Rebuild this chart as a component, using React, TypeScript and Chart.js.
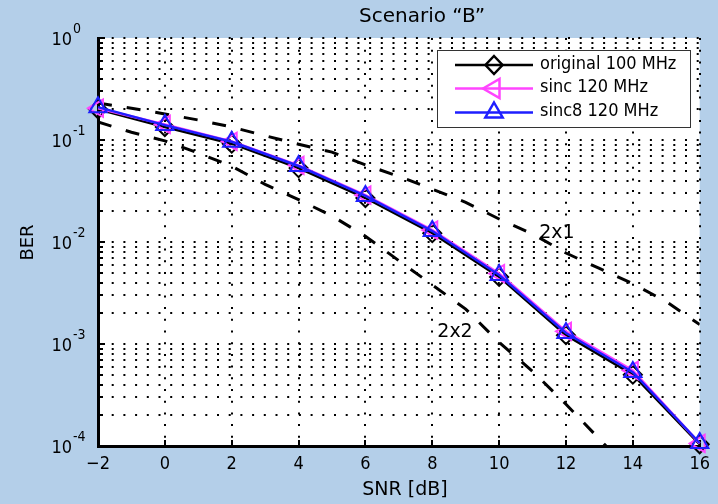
import React, { useEffect, useRef } from 'react';
import { Chart, registerables } from 'chart.js';

Chart.register(...registerables);

// ---- data ----
const snr = [-2, 0, 2, 4, 6, 8, 10, 12, 14, 16];
const berOriginal = [0.2, 0.134, 0.092, 0.053, 0.027, 0.0122, 0.00455, 0.00122, 0.0005, 0.000104];
const berSinc = [0.205, 0.142, 0.097, 0.0565, 0.0288, 0.0131, 0.0049, 0.00133, 0.00055, 0.000106];
const berSinc8 = [0.21, 0.14, 0.096, 0.0556, 0.0283, 0.0128, 0.00475, 0.00128, 0.00053, 0.000107];

const snr2x1 = [-2, -1, 0, 1, 2, 3, 4, 5, 6, 7, 8, 9, 10, 11, 12, 13, 14, 15, 16];
const ber2x1 = [0.23, 0.205, 0.18, 0.157, 0.134, 0.11, 0.091, 0.076, 0.057, 0.044, 0.033, 0.0245, 0.0168, 0.012, 0.0078, 0.0055, 0.0039, 0.0026, 0.00155];
const snr2x2 = [-2, -1, 0, 1, 2, 3, 4, 5, 6, 7, 8, 9, 10, 11, 12, 13, 13.2];
const ber2x2 = [0.15, 0.119, 0.098, 0.0745, 0.0554, 0.0367, 0.026, 0.018, 0.0114, 0.00656, 0.0038, 0.0022, 0.00104, 0.00054, 0.000257, 0.000117, 0.0001];

const xTicks = [-2, 0, 2, 4, 6, 8, 10, 12, 14, 16];
const yDecadeExponents = [0, -1, -2, -3, -4];
const yMinorMultipliers = [2, 3, 4, 5, 6, 7, 8, 9];
const legendLabels = ['original 100 MHz', 'sinc 120 MHz', 'sinc8 120 MHz'];
const curveLabels = ['2x1', '2x2'];
const titleText = 'Scenario \u201cB\u201d';
const xTitle = 'SNR [dB]';
const yTitle = 'BER';

const COL_BLACK = '#000000';
const COL_PINK = '#ff45ff';
const COL_BLUE = '#1e1eff';
const FONT = "'DejaVu Sans', Verdana, sans-serif";
const FONT_C = "'DejaVu Sans Condensed', 'DejaVu Sans', sans-serif";

const yTickValues: number[] = [];
yDecadeExponents.forEach((e) => {
  yTickValues.push(Math.pow(10, e));
  if (e < 0) yMinorMultipliers.forEach((m) => yTickValues.push(m * Math.pow(10, e)));
});

const pts = (xs: number[], ys: number[]) => xs.map((x, i) => ({ x, y: ys[i] }));

function markerPath(ctx: CanvasRenderingContext2D, kind: string, x: number, y: number, r: number) {
  ctx.beginPath();
  if (kind === 'diamond') {
    ctx.moveTo(x, y - r);
    ctx.lineTo(x + r * 0.95, y);
    ctx.lineTo(x, y + r);
    ctx.lineTo(x - r * 0.95, y);
  } else if (kind === 'left') {
    ctx.moveTo(x - r, y);
    ctx.lineTo(x + 0.5 * r, y - 0.866 * r);
    ctx.lineTo(x + 0.5 * r, y + 0.866 * r);
  } else {
    ctx.moveTo(x, y - r);
    ctx.lineTo(x + 0.866 * r, y + 0.5 * r);
    ctx.lineTo(x - 0.866 * r, y + 0.5 * r);
  }
  ctx.closePath();
  ctx.stroke();
}

const decor = {
  id: 'decor',
  beforeDraw(chart: any) {
    const { ctx, chartArea: a, width, height } = chart;
    ctx.save();
    ctx.fillStyle = '#b4cfe9';
    ctx.fillRect(0, 0, width, height);
    ctx.fillStyle = '#ffffff';
    ctx.fillRect(a.left, a.top, a.right - a.left, a.bottom - a.top);
    ctx.restore();
  },
  beforeDatasetsDraw(chart: any) {
    const { ctx, chartArea: a, scales } = chart;
    const ys = scales.y;
    const xs = scales.x;
    ctx.save();
    ctx.strokeStyle = '#000';
    ctx.lineWidth = 2;
    yTickValues.forEach((v) => {
      const py = Math.round(ys.getPixelForValue(v));
      const isMajor = Math.abs(Math.log10(v) - Math.round(Math.log10(v))) < 1e-9;
      ctx.beginPath();
      ctx.moveTo(a.left, py);
      ctx.lineTo(a.left + (isMajor ? 7 : 5), py);
      ctx.stroke();
    });
    xTicks.forEach((v) => {
      const px = Math.round(xs.getPixelForValue(v));
      ctx.beginPath();
      ctx.moveTo(px, a.bottom);
      ctx.lineTo(px, a.bottom - 6);
      ctx.stroke();
    });
    ctx.restore();
  },
  afterDraw(chart: any) {
    const { ctx, scales } = chart;
    const ys = scales.y;
    const xs = scales.x;
    ctx.save();
    ctx.fillStyle = '#000';
    // y tick labels with superscripts
    yDecadeExponents.forEach((e) => {
      const py = ys.getPixelForValue(Math.pow(10, e));
      ctx.font = `18px ${FONT_C}`;
      ctx.textAlign = 'right';
      ctx.textBaseline = 'alphabetic';
      ctx.fillText('10', 72, py + 7);
      ctx.font = `14px ${FONT_C}`;
      ctx.textAlign = 'left';
      ctx.fillText(e === 0 ? '0' : String(e), 73, py - 5);
    });
    // title
    ctx.font = `20px ${FONT}`;
    ctx.textAlign = 'center';
    ctx.fillText(titleText, 422, 22);
    // x title
    ctx.font = `19px ${FONT}`;
    ctx.fillText(xTitle, 405, 494.5);
    // y title
    ctx.save();
    ctx.font = `18px ${FONT}`;
    ctx.translate(33, 242.5);
    ctx.rotate(-Math.PI / 2);
    ctx.textAlign = 'center';
    ctx.fillText(yTitle, 0, 0);
    ctx.restore();
    // curve labels
    ctx.font = `19px ${FONT}`;
    ctx.textAlign = 'left';
    ctx.fillText(curveLabels[0], xs.getPixelForValue(11.2), 238);
    ctx.fillText(curveLabels[1], xs.getPixelForValue(8.15), 337);
    // legend
    const lx = 437, ly = 50, lw = 253, lh = 77;
    ctx.fillStyle = '#fff';
    ctx.fillRect(lx, ly, lw, lh);
    ctx.strokeStyle = '#333';
    ctx.lineWidth = 1;
    ctx.strokeRect(lx + 0.5, ly + 0.5, lw, lh);
    const rows = [65, 88.5, 112.5];
    const cols = [COL_BLACK, COL_PINK, COL_BLUE];
    const kinds = ['diamond', 'left', 'up'];
    const sizes = [9, 11, 10];
    legendLabels.forEach((t, i) => {
      const y = rows[i];
      ctx.strokeStyle = cols[i];
      ctx.lineWidth = 2.5;
      ctx.beginPath();
      ctx.moveTo(455, y);
      ctx.lineTo(533, y);
      ctx.stroke();
      ctx.lineWidth = 2.5;
      markerPath(ctx, kinds[i], 494, y, sizes[i]);
      ctx.fillStyle = '#000';
      ctx.font = `18px ${FONT_C}`;
      ctx.textAlign = 'left';
      ctx.textBaseline = 'middle';
      ctx.fillText(t, 540, y - 1);
    });
    ctx.restore();
  },
};

export default function App() {
  const ref = useRef<HTMLCanvasElement | null>(null);
  useEffect(() => {
    if (!ref.current) return;
    const dashed = {
      borderColor: COL_BLACK,
      borderWidth: 3,
      borderDash: [14, 15],
      pointRadius: 0,
      fill: false,
      tension: 0,
      order: 5,
    };
    const chart = new Chart(ref.current, {
      type: 'line',
      data: {
        datasets: [
          {
            label: legendLabels[0],
            data: pts(snr, berOriginal),
            borderColor: COL_BLACK,
            borderWidth: 2.5,
            pointStyle: 'rectRot',
            pointRadius: 9,
            pointBorderWidth: 2,
            pointBorderColor: COL_BLACK,
            pointBackgroundColor: 'rgba(0,0,0,0)',
            tension: 0,
            clip: false,
            order: 3,
          },
          {
            label: legendLabels[1],
            data: pts(snr, berSinc),
            borderColor: COL_PINK,
            borderWidth: 2.5,
            pointStyle: 'triangle',
            pointRotation: -90,
            pointRadius: 10,
            pointBorderWidth: 2,
            pointBorderColor: COL_PINK,
            pointBackgroundColor: 'rgba(0,0,0,0)',
            tension: 0,
            clip: false,
            order: 2,
          },
          {
            label: legendLabels[2],
            data: pts(snr, berSinc8),
            borderColor: COL_BLUE,
            borderWidth: 2.5,
            pointStyle: 'triangle',
            pointRadius: 10,
            pointBorderWidth: 2,
            pointBorderColor: COL_BLUE,
            pointBackgroundColor: 'rgba(0,0,0,0)',
            tension: 0,
            clip: false,
            order: 1,
          },
          { label: curveLabels[0], data: pts(snr2x1, ber2x1), ...dashed },
          { label: curveLabels[1], data: pts(snr2x2, ber2x2), ...dashed },
        ] as any,
      },
      options: {
        responsive: false,
        animation: false,
        events: [],
        layout: { padding: { top: 38, right: 13, left: 0, bottom: 0 } },
        plugins: { legend: { display: false }, title: { display: false }, tooltip: { enabled: false } },
        scales: {
          x: {
            type: 'linear',
            min: -2,
            max: 16,
            afterBuildTicks: (s: any) => {
              s.ticks = xTicks.map((v) => ({ value: v }));
            },
            afterFit: (s: any) => {
              s.height = 58;
            },
            ticks: {
              autoSkip: false,
              maxRotation: 0,
              padding: 8,
              color: '#000',
              font: { family: FONT_C, size: 18 },
              callback: (v: any) => (Number(v) < 0 ? '\u2212' + Math.abs(Number(v)) : String(v)),
            },
            grid: { color: '#000', lineWidth: 2, drawTicks: false },
            border: { display: true, color: '#000', width: 3, dash: [2, 9.7] },
          },
          y: {
            type: 'logarithmic',
            min: 1e-4,
            max: 1,
            afterBuildTicks: (s: any) => {
              s.ticks = yTickValues.map((v) => ({ value: v }));
            },
            afterFit: (s: any) => {
              s.width = 98;
            },
            ticks: { display: false },
            grid: { color: '#000', lineWidth: 2, drawTicks: false },
            border: { display: true, color: '#000', width: 3, dash: [2, 9.7] },
          },
        },
      } as any,
      plugins: [decor],
    });
    return () => chart.destroy();
  }, []);
  return (
    <div style={{ position: 'fixed', left: 0, top: 0, width: 718, height: 504 }}>
      <canvas ref={ref} width={718} height={504} style={{ display: 'block' }} />
    </div>
  );
}
